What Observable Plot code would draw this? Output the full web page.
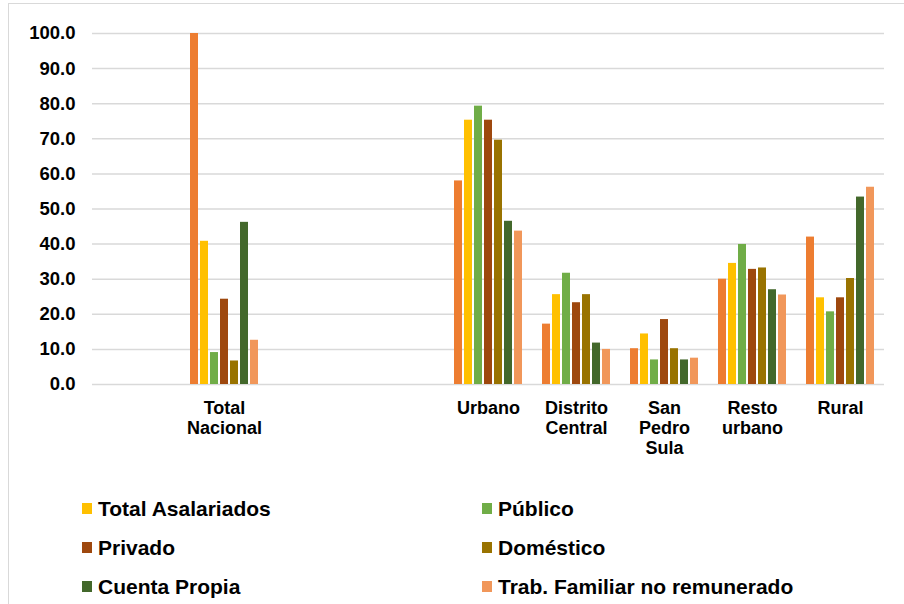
<!DOCTYPE html>
<html>
<head>
<meta charset="utf-8">
<script src="https://cdn.jsdelivr.net/npm/d3@7"></script>
<script src="https://cdn.jsdelivr.net/npm/@observablehq/plot@0.6"></script>
<style>
  html, body { margin: 0; padding: 0; background: #fff; }
  body { width: 904px; height: 604px; overflow: hidden; position: relative; font-family: "Liberation Sans", Arial, sans-serif; }
  #frame { position: absolute; left: 8px; top: 3px; width: 1000px; height: 1000px; border: 1.5px solid #d9d9d9; box-sizing: border-box; pointer-events: none; }
  #chart { position: absolute; left: 0; top: 0; }
  #legend { position: absolute; left: 82px; top: 489px; display: grid; grid-template-columns: 400px 400px; }
  .item { display: flex; align-items: center; height: 39px; font-size: 21px; font-weight: bold; color: #000; white-space: nowrap; }
  .sw { width: 10px; height: 10.5px; margin-right: 6px; flex: none; }
</style>
</head>
<body>
<div id="frame"></div>
<div id="chart"></div>
<div id="legend"></div>
<script>
// Categories (with blank slots as in the original layout)
const categories = ["Total Nacional", "Urbano", "Distrito Central", "San Pedro Sula", "Resto urbano", "Rural"];
const slots = ["_gap1", "Total Nacional", "_gap2", "_gap3", "Urbano", "Distrito Central", "San Pedro Sula", "Resto urbano", "Rural"];
const tickLabels = {
  "Total Nacional": "Total\nNacional",
  "Urbano": "Urbano",
  "Distrito Central": "Distrito\nCentral",
  "San Pedro Sula": "San\nPedro\nSula",
  "Resto urbano": "Resto\nurbano",
  "Rural": "Rural"
};
const series = ["Total Ocupados", "Total Asalariados", "Público", "Privado", "Doméstico", "Cuenta Propia", "Trab. Familiar no remunerado"];
const legendSeries = ["Total Asalariados", "Público", "Privado", "Doméstico", "Cuenta Propia", "Trab. Familiar no remunerado"];
const colors = ["#ED7D31", "#FFC000", "#70AD47", "#9E480E", "#997300", "#43682B", "#F1975A"];

// Values per series, in the order of `categories`
const totalOcupados    = [100.0, 58.0, 17.2, 10.2, 30.0, 42.0];
const totalAsalariados = [40.8, 75.3, 25.6, 14.4, 34.5, 24.7];
const publico          = [9.1, 79.3, 31.7, 7.0, 39.9, 20.7];
const privado          = [24.3, 75.3, 23.3, 18.5, 32.8, 24.7];
const domestico        = [6.7, 69.6, 25.6, 10.2, 33.2, 30.2];
const cuentaPropia     = [46.2, 46.5, 11.8, 7.0, 27.0, 53.4];
const trabFamiliar     = [12.6, 43.7, 10.0, 7.5, 25.5, 56.2];
const yTicks = [0, 10, 20, 30, 40, 50, 60, 70, 80, 90, 100];

const valuesBySeries = [totalOcupados, totalAsalariados, publico, privado, domestico, cuentaPropia, trabFamiliar];
const data = [];
series.forEach((s, si) => categories.forEach((c, ci) => data.push({cat: c, series: s, value: valuesBySeries[si][ci]})));
const gridData = [];
slots.forEach(c => yTicks.forEach(v => gridData.push({cat: c, v})));

const font = "'Liberation Sans', Arial, sans-serif";
const chart = Plot.plot({
  width: 904,
  height: 470,
  marginLeft: 89,
  marginRight: 17,
  marginTop: 33,
  marginBottom: 86,
  style: {fontFamily: font, color: "#000", background: "transparent"},
  fx: {domain: slots, padding: 0, label: null, axis: null},
  x: {domain: series, paddingInner: 0.2, paddingOuter: 0.85, axis: null},
  y: {domain: [0, 100], axis: null},
  color: {domain: series, range: colors},
  marks: [
    Plot.ruleY(gridData, {fx: "cat", y: "v", stroke: "#d9d9d9", strokeWidth: 1.5}),
    Plot.barY(data, {fx: "cat", x: "series", y: "value", fill: "series"}),
    Plot.axisY(yTicks, {tickSize: 0, tickPadding: 17, tickFormat: d3.format(".1f"), fontSize: 18.5, fontWeight: "bold", label: null}),
    Plot.axisFx({anchor: "bottom", tickSize: 0, tickPadding: 15, tickFormat: d => tickLabels[d] ?? "", fontSize: 18, fontWeight: "bold", lineHeight: 1.12, label: null})
  ]
});
document.getElementById("chart").appendChild(chart);

const legend = document.getElementById("legend");
legendSeries.forEach(s => {
  const item = document.createElement("div");
  item.className = "item";
  const sw = document.createElement("span");
  sw.className = "sw";
  sw.style.background = colors[series.indexOf(s)];
  item.appendChild(sw);
  item.appendChild(document.createTextNode(s));
  legend.appendChild(item);
});
</script>
</body>
</html>
